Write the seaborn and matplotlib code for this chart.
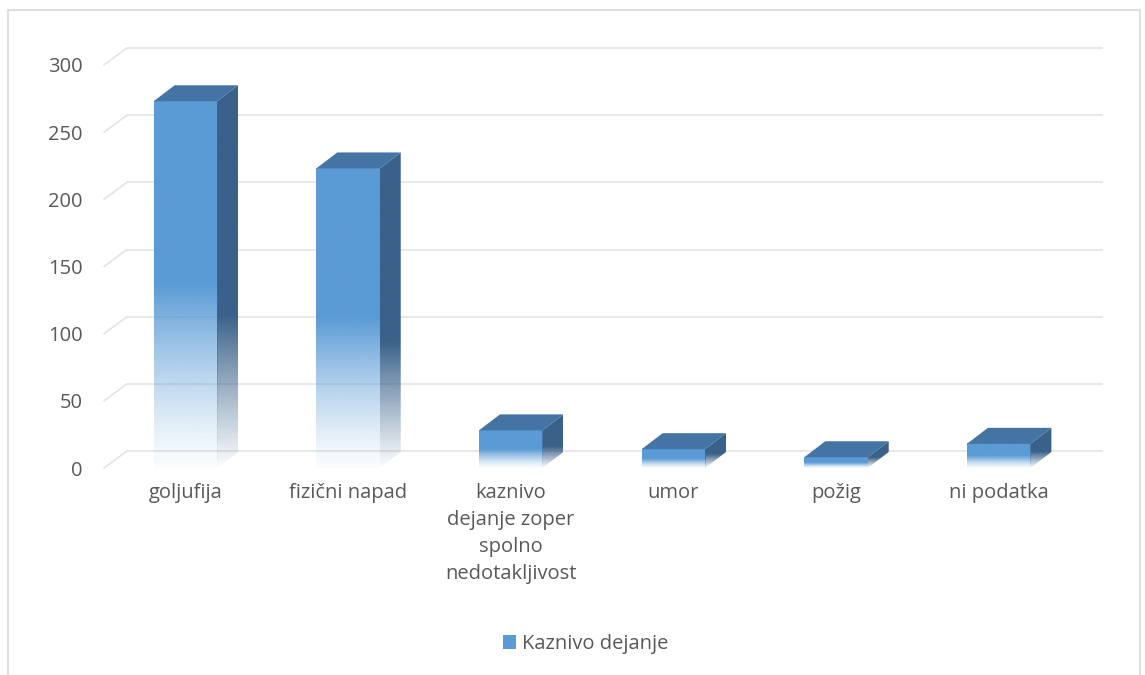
import numpy as np
import pandas as pd
import matplotlib
matplotlib.use("Agg")
import matplotlib.pyplot as plt
import seaborn as sns
from matplotlib.patches import Polygon, Rectangle, Patch
from matplotlib.colors import to_rgb

# --- data -------------------------------------------------------------
categories = [
    "goljufija",
    "fizični napad",
    "kaznivo\ndejanje zoper\nspolno\nnedotakljivost",
    "umor",
    "požig",
    "ni podatka",
]
values = [273, 223, 28, 14, 8, 18]
yticks = [0, 50, 100, 150, 200, 250, 300]
series_name = "Kaznivo dejanje"

# --- style ------------------------------------------------------------
FRONT = "#5B9BD5"
TOP = "#4474A3"
SIDE = "#3A6189"
GRID = "#E4E4E4"
TEXT = "#595959"
BORDER = "#D9D9D9"

sns.set_theme(style="white")
plt.rcParams["font.family"] = ["Open Sans", "DejaVu Sans"]

W, H = 1145, 675
fig = plt.figure(figsize=(W / 100, H / 100), dpi=100)
fig.patch.set_facecolor("white")

# front plane of the 3-D plot box
ax = fig.add_axes([104 / W, 1 - 468 / H, (1080 - 104) / W, (468 - 65) / H])

df = pd.DataFrame({"kategorija": categories, "vrednost": values})
sns.barplot(data=df, x="kategorija", y="vrednost", width=0.39, color=FRONT,
            saturation=1, ax=ax, zorder=3)
ax.set_xlim(-0.5, 5.5)
ax.set_ylim(0, 300)

# pixel -> data scale factors
ax_w_px = (1080 - 104)
ax_h_px = (468 - 65)
sx = 6 / ax_w_px
sy = 300 / ax_h_px

# back wall offset and bar depth offset (pixels)
wall_dx, wall_dy = 23 * sx, 17 * sy
bar_dx, bar_dy = 21 * sx, 16 * sy

# back-wall gridlines with the diagonal floor/side connectors
for v in yticks:
    ax.plot([-0.5 + wall_dx, 5.5 + wall_dx], [v + wall_dy, v + wall_dy],
            color=GRID, lw=1.2, zorder=1, clip_on=False, solid_capstyle="butt")
    ax.plot([-0.5, -0.5 + wall_dx], [v, v + wall_dy],
            color=GRID, lw=1.2, zorder=1, clip_on=False)


def fade_image(rgb, n=256, solid_from=0.5, floor=0.03, power=1.3):
    t = np.linspace(0, 1, n)
    a = np.clip(t / solid_from, 0, 1) ** power
    a = floor + (1 - floor) * a
    img = np.zeros((n, 1, 4))
    img[:, 0, :3] = to_rgb(rgb)
    img[:, 0, 3] = a
    return img


for patch in list(ax.patches):
    x0 = patch.get_x()
    w = patch.get_width()
    h = patch.get_height()
    x1 = x0 + w
    patch.set_facecolor("none")
    patch.set_edgecolor("none")

    # front face with fade towards the floor
    ax.imshow(fade_image(FRONT), extent=[x0, x1, 0, h], origin="lower",
              aspect="auto", interpolation="bilinear", zorder=3, clip_on=False)

    # right side face
    side = Polygon([(x1, 0), (x1 + bar_dx, bar_dy), (x1 + bar_dx, h + bar_dy), (x1, h)],
                   closed=True, transform=ax.transData)
    im = ax.imshow(fade_image(SIDE, solid_from=0.4, power=1.1),
                   extent=[x1, x1 + bar_dx, 0, h + bar_dy],
                   origin="lower", aspect="auto", interpolation="bilinear", zorder=3)
    im.set_clip_path(side)

    # top face
    ax.add_patch(Polygon([(x0, h), (x1, h), (x1 + bar_dx, h + bar_dy), (x0 + bar_dx, h + bar_dy)],
                         closed=True, facecolor=TOP, edgecolor="none", zorder=4,
                         clip_on=False))

ax.set_xlim(-0.5, 5.5)
ax.set_ylim(0, 300)
ax.set_yticks(yticks)
ax.set_yticklabels([str(v) for v in yticks])
ax.set_xlabel("")
ax.set_ylabel("")
ax.grid(False)
ax.set_facecolor("none")
sns.despine(ax=ax, left=True, bottom=True)
ax.tick_params(axis="y", length=0, pad=15.5, labelsize=14.5, labelcolor=TEXT)
ax.tick_params(axis="x", length=0, pad=11, labelsize=14.5, labelcolor=TEXT)
for lab in ax.get_xticklabels():
    lab.set_linespacing(1.45)
    lab.set_ha("center")
    lab.set_va("top")

fig.legend(handles=[Patch(facecolor=FRONT, edgecolor="none")], labels=[series_name],
           loc="center", bbox_to_anchor=(586 / W, 1 - 644 / H), frameon=False,
           handlelength=0.65, handleheight=0.65, handletextpad=0.3,
           fontsize=14.5, labelcolor=TEXT)

# chart area border
fig.add_artist(Rectangle((8 / W, -0.05), (1140 - 8) / W, 1.05 - 10 / H,
                         transform=fig.transFigure, fill=False,
                         edgecolor=BORDER, lw=1.2))

fig.savefig("out.png", dpi=100, facecolor="white")
